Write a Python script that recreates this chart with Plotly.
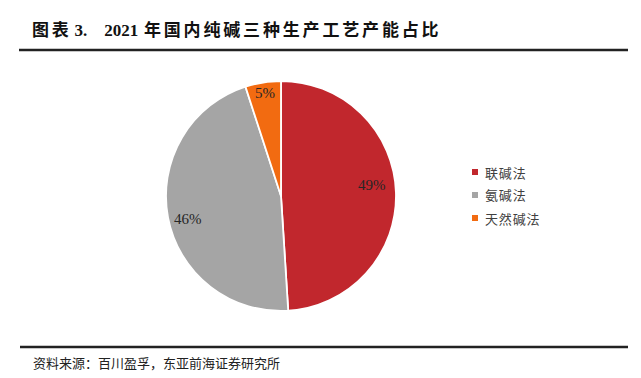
import math
import plotly.graph_objects as go

labels = ["联碱法", "氨碱法", "天然碱法"]
values = [49, 46, 5]
colors = ["#C1272D", "#A5A5A5", "#F26B11"]
title_text = "图表 3.  2021 年国内纯碱三种生产工艺产能占比"
source_text = "资料来源：百川盈孚，东亚前海证券研究所"

# the page body has an 8px margin, so the figure is sized to fit the window
PAGE_OFF = 8
W, H = 641 - PAGE_OFF, 378 - PAGE_OFF
CX, CY, R = 281, 196, 115  # target pie centre and radius in window px
label_r = [0.80, 0.83, 0.91]
label_nudge_deg = [-5, -3, 0]


def px(x):
    return (x - PAGE_OFF) / W


def py(y):
    return (H - (y - PAGE_OFF)) / H


def is_cjk(ch):
    return ord(ch) >= 0x2E80


def spaced(s, sep="\u200a"):
    s = s.replace("  ", "\u2003").replace(" ", "\u2004")
    out = ""
    for i, ch in enumerate(s):
        out += ch
        if i < len(s) - 1 and is_cjk(ch) and is_cjk(s[i + 1]):
            out += sep
    return out


fig = go.Figure(go.Pie(
    labels=labels, values=values, sort=False, direction="clockwise", rotation=0,
    marker=dict(colors=colors, line=dict(color="white", width=1.8)),
    textinfo="none", showlegend=False,
    domain=dict(x=[px(CX - R), px(CX + R)], y=[py(CY + R), py(CY - R)]),
    hoverinfo="label+percent",
))

annotations = [
    dict(text="<b>" + spaced(title_text, "\u2006") + "</b>", x=px(30), y=py(30), xref="paper", yref="paper",
         xanchor="left", yanchor="middle", showarrow=False,
         font=dict(size=17, family="Liberation Serif, Noto Sans CJK SC", color="#111111")),
    dict(text=source_text, x=px(31), y=py(362), xref="paper", yref="paper",
         xanchor="left", yanchor="middle", showarrow=False,
         font=dict(size=13, family="Noto Sans CJK SC", color="#222222")),
]

total = sum(values)
cum = 0.0
for v, lr, nd in zip(values, label_r, label_nudge_deg):
    mid = (cum + v / 2) / total * 2 * math.pi + math.radians(nd)
    cum += v
    lx = CX + lr * R * math.sin(mid)
    ly = CY - lr * R * math.cos(mid)
    annotations.append(dict(
        text=f"{round(v / total * 100)}%", x=px(lx), y=py(ly), xref="paper", yref="paper",
        xanchor="center", yanchor="middle", showarrow=False,
        font=dict(size=15, family="Liberation Serif", color="#262626")))

shapes = [
    dict(type="line", xref="paper", yref="paper", x0=px(19), x1=px(628),
         y0=py(50), y1=py(50), line=dict(color="#222222", width=2.5)),
    dict(type="line", xref="paper", yref="paper", x0=px(20), x1=px(628),
         y0=py(347), y1=py(347), line=dict(color="#222222", width=2.5)),
]

# custom legend
LX, LY0, LDY = 475, 172, 23
for i, (lab, col) in enumerate(zip(labels, colors)):
    y = LY0 + i * LDY
    shapes.append(dict(type="rect", xref="paper", yref="paper",
                       x0=px(LX - 3), x1=px(LX + 3), y0=py(y + 3), y1=py(y - 3),
                       fillcolor=col, line=dict(width=0)))
    annotations.append(dict(text=spaced(lab), x=px(LX + 8), y=py(y), xref="paper", yref="paper",
                            xanchor="left", yanchor="middle", showarrow=False,
                            font=dict(size=13, family="Noto Sans CJK SC", color="#404040")))

fig.update_layout(
    width=W, height=H, margin=dict(l=0, r=0, t=0, b=0),
    paper_bgcolor="white", plot_bgcolor="white",
    font=dict(family="Liberation Serif, Noto Sans CJK SC", color="#333333"),
    annotations=annotations, shapes=shapes,
)

fig.write_html("out.html")
